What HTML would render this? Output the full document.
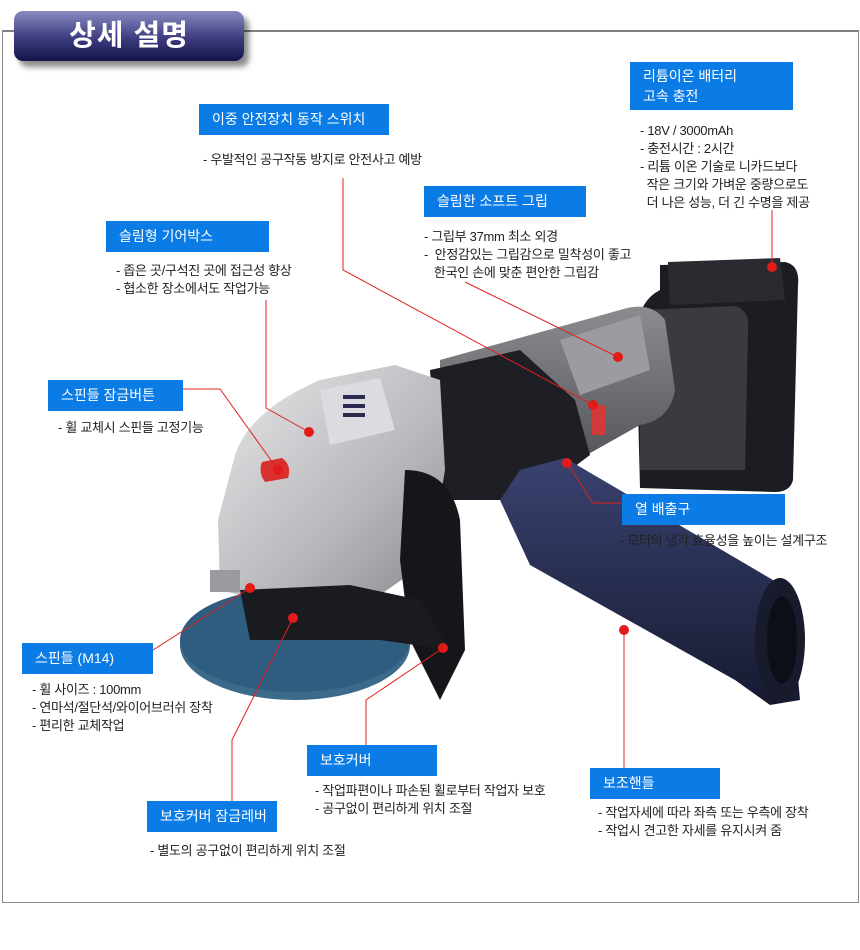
<!DOCTYPE html>
<html><head><meta charset="utf-8"><style>
body{margin:0;background:#fff;}
#c{position:relative;width:860px;height:950px;overflow:hidden;font-family:"Liberation Sans","Noto Sans CJK KR",sans-serif;}
.frame{position:absolute;left:2px;top:30px;width:855px;height:870px;border:1px solid #888;border-top:2px solid #808080;}
.hd{position:absolute;left:14px;top:11px;width:230px;height:50px;border-radius:9px;background:linear-gradient(#8a8ac0,#3c3c80 55%,#14144a);box-shadow:5px 6px 6px rgba(0,0,0,.45);color:#fff;font-size:29px;font-weight:bold;text-align:center;line-height:50px;letter-spacing:1px;}
.lb{position:absolute;background:#0b7ce6;color:#fff;font-size:14px;line-height:31px;height:31px;padding-left:13px;box-sizing:border-box;}
.tx{position:absolute;font-size:13px;color:#222;line-height:18px;white-space:nowrap;letter-spacing:-0.3px;}
svg{position:absolute;left:0;top:0;}
</style></head><body><div id="c">
<div class="frame"></div>
<svg width="860" height="950" viewBox="0 0 860 950">
<defs>
<linearGradient id="sil" x1="0" y1="0" x2="1" y2="1"><stop offset="0" stop-color="#e8e8ea"/><stop offset="0.6" stop-color="#b8b8bc"/><stop offset="1" stop-color="#8a8a90"/></linearGradient>
<linearGradient id="gr" x1="0" y1="0" x2="0" y2="1"><stop offset="0" stop-color="#8a8c90"/><stop offset="1" stop-color="#4a4c50"/></linearGradient>
<linearGradient id="hn" x1="0" y1="0" x2="0" y2="1"><stop offset="0" stop-color="#3a4270"/><stop offset="1" stop-color="#161a30"/></linearGradient>
</defs>
<!-- battery -->
<path d="M660 265 L785 262 Q800 265 798 285 L793 480 Q790 492 775 492 L640 488 L636 330 Q640 300 660 290 Z" fill="#1c1d22"/>
<path d="M668 262 L780 258 L785 300 L670 305 Z" fill="#2a2b30"/>
<path d="M640 310 L735 306 Q750 310 748 330 L745 470 L640 470 Z" fill="#3a3b40"/>
<!-- body barrel -->
<path d="M440 360 L620 310 Q650 300 665 320 L675 390 Q670 420 640 425 L560 470 L470 490 L440 470 Z" fill="url(#gr)"/>
<path d="M560 340 L640 315 L650 370 L580 395 Z" fill="#9a9ca0"/>
<path d="M430 370 L520 350 L575 400 L590 455 L530 500 L440 500 Z" fill="#1e1f24"/>
<rect x="592" y="405" width="14" height="30" fill="#d23a3a"/>
<!-- gear head silver -->
<path d="M235 455 Q250 410 320 380 L395 365 L440 380 L445 470 L430 560 L380 595 L260 600 L220 590 L218 520 Z" fill="url(#sil)"/>
<path d="M320 390 L380 378 L395 430 L330 445 Z" fill="#dcdce0"/>
<rect x="343" y="395" width="22" height="4" fill="#2a2a50"/><rect x="343" y="404" width="22" height="4" fill="#2a2a50"/><rect x="343" y="413" width="22" height="4" fill="#2a2a50"/>
<path d="M262 462 L282 458 Q292 465 288 478 L265 482 Q258 472 262 462 Z" fill="#d8302c"/>
<!-- cover black -->
<path d="M405 470 Q450 470 460 520 L465 650 L440 700 L410 640 L400 560 Z" fill="#15161a"/>
<!-- disc -->
<ellipse cx="295" cy="645" rx="115" ry="55" fill="#3c6a8a"/>
<ellipse cx="295" cy="640" rx="115" ry="52" fill="#2e5d80"/>
<path d="M240 590 L350 585 L420 600 L450 650 L380 640 L250 640 Z" fill="#1a1b1f"/>
<rect x="210" y="570" width="30" height="22" fill="#9a9aa0"/>
<!-- aux handle -->
<path d="M500 500 L520 470 L565 458 L790 590 L800 700 L770 705 L735 680 L530 565 Z" fill="url(#hn)"/>
<ellipse cx="780" cy="640" rx="25" ry="62" fill="#181b2c"/>
<ellipse cx="782" cy="640" rx="15" ry="44" fill="#0c0e18"/>
<!-- leader lines -->
<g stroke="#e02020" stroke-width="1" fill="none">
<path d="M343 178 L343 270 L593 405"/>
<path d="M772 210 L772 267"/>
<path d="M465 282 L618 357"/>
<path d="M266 300 L266 408 L309 432"/>
<path d="M183 389 L220 389 L278 470"/>
<path d="M567 463 L593 503 L622 503"/>
<path d="M250 588 L153 650"/>
<path d="M293 618 L232 740 L232 801"/>
<path d="M443 648 L366 700 L366 745"/>
<path d="M624 630 L624 768"/>
</g>
<g fill="#e21a1a">
<circle cx="593" cy="405" r="5"/><circle cx="772" cy="267" r="5"/><circle cx="618" cy="357" r="5"/>
<circle cx="309" cy="432" r="5"/><circle cx="278" cy="470" r="5"/><circle cx="567" cy="463" r="5"/>
<circle cx="250" cy="588" r="5"/><circle cx="293" cy="618" r="5"/><circle cx="443" cy="648" r="5"/><circle cx="624" cy="630" r="5"/>
</g>
</svg>
<div class="hd">상세 설명</div>

<div class="lb" style="left:199px;top:104px;width:190px;">이중 안전장치 동작 스위치</div>
<div class="tx" style="left:203px;top:151px;">- 우발적인 공구작동 방지로 안전사고 예방</div>

<div class="lb" style="left:630px;top:62px;width:163px;height:48px;line-height:20px;padding-top:4px;">리튬이온 배터리<br>고속 충전</div>
<div class="tx" style="left:640px;top:122px;">- 18V / 3000mAh<br>- 충전시간 : 2시간<br>- 리튬 이온 기술로 니카드보다<br>&nbsp;&nbsp;작은 크기와 가벼운 중량으로도<br>&nbsp;&nbsp;더 나은 성능, 더 긴 수명을 제공</div>

<div class="lb" style="left:424px;top:186px;width:162px;">슬림한 소프트 그립</div>
<div class="tx" style="left:424px;top:228px;">- 그립부 37mm 최소 외경<br>-&nbsp; 안정감있는 그립감으로 밀착성이 좋고<br>&nbsp;&nbsp;&nbsp;한국인 손에 맞춘 편안한 그립감</div>

<div class="lb" style="left:106px;top:221px;width:163px;">슬림형 기어박스</div>
<div class="tx" style="left:116px;top:262px;">- 좁은 곳/구석진 곳에 접근성 향상<br>- 협소한 장소에서도 작업가능</div>

<div class="lb" style="left:48px;top:380px;width:135px;">스핀들 잠금버튼</div>
<div class="tx" style="left:58px;top:419px;">- 휠 교체시 스핀들 고정기능</div>

<div class="lb" style="left:622px;top:494px;width:163px;">열 배출구</div>
<div class="tx" style="left:620px;top:532px;">- 모터의 냉각 효율성을 높이는 설계구조</div>

<div class="lb" style="left:22px;top:643px;width:131px;">스핀들 (M14)</div>
<div class="tx" style="left:32px;top:681px;">- 휠 사이즈 : 100mm<br>- 연마석/절단석/와이어브러쉬 장착<br>- 편리한 교체작업</div>

<div class="lb" style="left:307px;top:745px;width:130px;">보호커버</div>
<div class="tx" style="left:315px;top:782px;">- 작업파편이나 파손된 휠로부터 작업자 보호<br>- 공구없이 편리하게 위치 조절</div>

<div class="lb" style="left:590px;top:768px;width:130px;">보조핸들</div>
<div class="tx" style="left:598px;top:804px;">- 작업자세에 따라 좌측 또는 우측에 장착<br>- 작업시 견고한 자세를 유지시켜 줌</div>

<div class="lb" style="left:147px;top:801px;width:130px;">보호커버 잠금레버</div>
<div class="tx" style="left:150px;top:842px;">- 별도의 공구없이 편리하게 위치 조절</div>
</div></body></html>
